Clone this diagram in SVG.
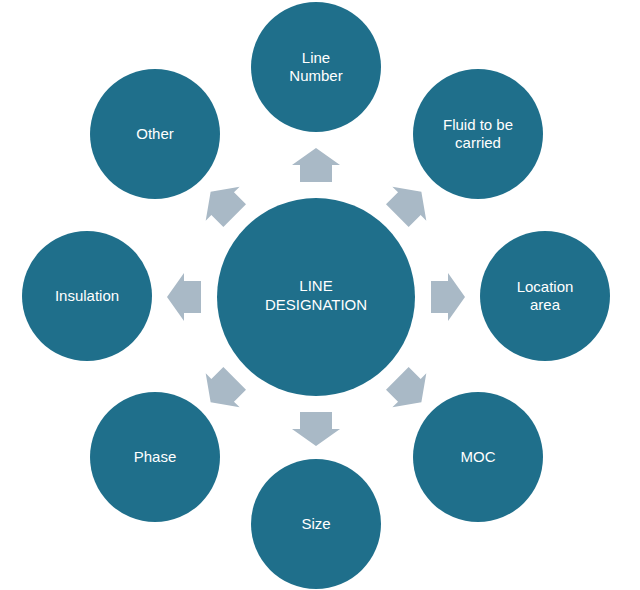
<svg xmlns="http://www.w3.org/2000/svg" width="640" height="590" viewBox="0 0 640 590">
<style>
.n{fill:#1f6f8b}
.t{font-family:"Liberation Sans",Arial,sans-serif;font-size:15px;fill:#fff;text-anchor:middle}
.a{fill:#a9b9c6}
</style>
<defs><path id="arr" d="M0,-17 L24,0 L16,0 L16,17 L-16,17 L-16,0 L-24,0 Z"/></defs>
<rect width="640" height="590" fill="#fff"/>
<g id="connectors">
<use href="#arr" class="a" transform="rotate(0 316 297) translate(316 165)"/>
<use href="#arr" class="a" transform="rotate(45 316 297) translate(316 165)"/>
<use href="#arr" class="a" transform="rotate(90 316 297) translate(316 165)"/>
<use href="#arr" class="a" transform="rotate(135 316 297) translate(316 165)"/>
<use href="#arr" class="a" transform="rotate(180 316 297) translate(316 165)"/>
<use href="#arr" class="a" transform="rotate(225 316 297) translate(316 165)"/>
<use href="#arr" class="a" transform="rotate(270 316 297) translate(316 165)"/>
<use href="#arr" class="a" transform="rotate(315 316 297) translate(316 165)"/>
</g>
<g id="center"><circle class="n" cx="316" cy="297" r="99"/><text class="t" x="316" y="291">LINE</text><text class="t" x="316" y="310">DESIGNATION</text></g>
<g id="line-number"><circle class="n" cx="316" cy="67" r="65"/><text class="t" x="316" y="63">Line</text><text class="t" x="316" y="81">Number</text></g>
<g id="fluid"><circle class="n" cx="478" cy="134" r="65"/><text class="t" x="478" y="130">Fluid to be</text><text class="t" x="478" y="148">carried</text></g>
<g id="location"><circle class="n" cx="545" cy="296" r="65"/><text class="t" x="545" y="292">Location</text><text class="t" x="545" y="310">area</text></g>
<g id="moc"><circle class="n" cx="478" cy="457" r="65"/><text class="t" x="478" y="462">MOC</text></g>
<g id="size"><circle class="n" cx="316" cy="524" r="65"/><text class="t" x="316" y="529">Size</text></g>
<g id="phase"><circle class="n" cx="155" cy="457" r="65"/><text class="t" x="155" y="462">Phase</text></g>
<g id="insulation"><circle class="n" cx="87" cy="296" r="65"/><text class="t" x="87" y="301">Insulation</text></g>
<g id="other"><circle class="n" cx="155" cy="134" r="65"/><text class="t" x="155" y="139">Other</text></g>
</svg>
